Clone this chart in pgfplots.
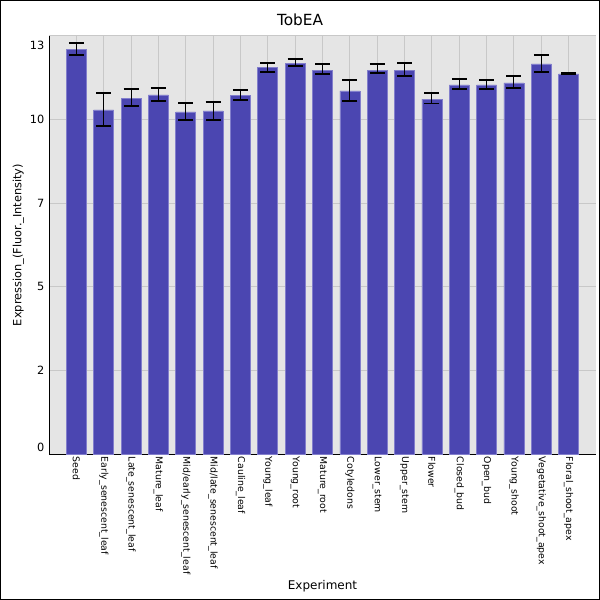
\documentclass[border=0pt]{standalone}
\usepackage{pgfplots}
\pgfplotsset{compat=1.18}
\usepackage{pgfplotstable}
\usepackage{fontspec}
\setmainfont{DejaVu Sans}
\definecolor{barfill}{RGB}{75,70,177}
\definecolor{baredge}{RGB}{130,126,204}
\definecolor{bggray}{RGB}{229,229,229}
\definecolor{gridgray}{RGB}{200,200,200}
\pgfplotstableread{
x y ep em
1 12.57 0.20 0.16
2 10.70 0.52 0.50
3 11.07 0.28 0.24
4 11.17 0.21 0.20
5 10.64 0.27 0.25
6 10.67 0.28 0.27
7 11.14 0.17 0.12
8 12.01 0.15 0.13
9 12.16 0.13 0.10
10 11.94 0.19 0.11
11 11.29 0.34 0.30
12 11.94 0.18 0.10
13 11.94 0.23 0.18
14 11.04 0.19 0.14
15 11.48 0.18 0.13
16 11.48 0.14 0.13
17 11.54 0.22 0.17
18 12.13 0.29 0.25
19 11.82 0.04 0.01
}\datatable
\begin{document}
\begin{tikzpicture}
\draw[black, line width=0.75pt] (0.375pt,0.375pt) rectangle (449.625pt,449.625pt);
\begin{axis}[
  at={(36.75pt,109.5pt)}, anchor=south west,
  scale only axis, width=410.25pt, height=313.5pt,
  xmin=0, xmax=20, ymin=0, ymax=13,
  axis background/.style={fill=bggray},
  axis x line*=bottom, axis y line*=left,
  axis line style={black, line width=0.6pt, -},
  xtick={1,...,19},
  xticklabels={Seed,Early\_senescent\_leaf,Late\_senescent\_leaf,Mature\_leaf,Mid/early\_senescent\_leaf,Mid/late\_senescent\_leaf,Cauline\_leaf,Young\_leaf,Young\_root,Mature\_root,Cotyledons,Lower\_stem,Upper\_stem,Flower,Closed\_bud,Open\_bud,Young\_shoot,Vegetative\_shoot\_apex,Floral\_shoot\_apex},
  xticklabel style={rotate=-90, anchor=west, font=\fontsize{7}{8}\selectfont, inner sep=2pt},
  ytick={0,2.6,5.2,7.8,10.4,13},
  yticklabels={\raisebox{5.25pt}[\height][\depth]{0},2,5,7,10,\raisebox{-6.75pt}[\height][\depth]{13}},
  yticklabel style={font=\fontsize{8.5}{10}\selectfont},
  /pgf/number format/assume math mode=true,
  major tick length=0pt,
  grid=major,
  major grid style={gridgray, line width=0.75pt},
  title={TobEA},
  title style={at={(axis description cs:0.459,1.019)}, anchor=center, font=\fontsize{11.5}{13}\selectfont},
  xlabel={Experiment},
  xlabel style={at={(axis description cs:0.5,-0.316)}, anchor=center, font=\fontsize{9}{10}\selectfont},
  ylabel={Expression\_(Fluor.\_Intensity)},
  ylabel style={at={(axis description cs:-0.056,0.5)}, anchor=center, font=\fontsize{8.5}{10}\selectfont},
  clip=false,
]
\addplot[ybar, bar width=0.73, fill=barfill, draw=baredge, line width=0.5pt,
  error bars/.cd, y dir=both, y explicit,
  error bar style={black, line width=0.8pt},
  error mark options={black, mark size=5.6pt, line width=1.4pt, rotate=90}]
  table[x=x, y=y, y error plus=ep, y error minus=em]{\datatable};
\end{axis}
\end{tikzpicture}
\end{document}
